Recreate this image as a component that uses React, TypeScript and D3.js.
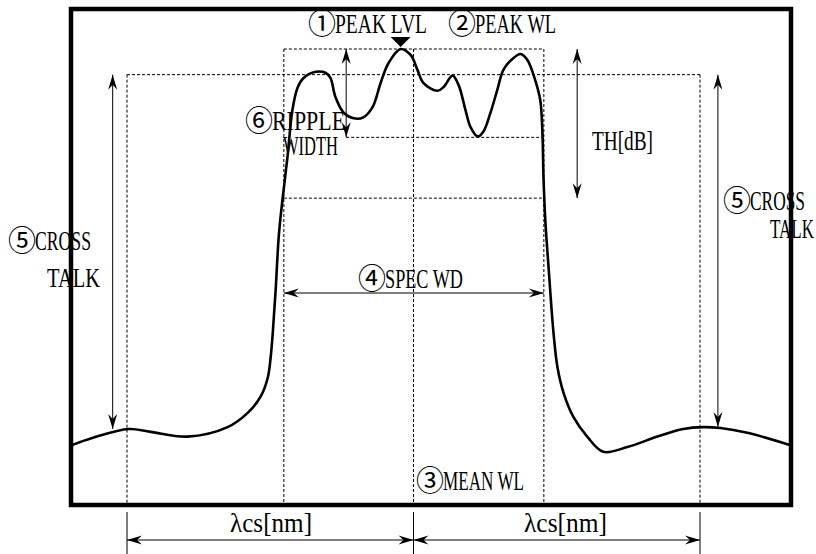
import React from "react";
import * as d3 from "d3";

// Spectrum trace: wavelength offset from mean WL [nm] and relative power [dB]
const wavelengthNm = [
  -0.954, -0.893, -0.795, -0.734, -0.631, -0.519, -0.463, -0.427, -0.407, -0.399,
  -0.393, -0.385, -0.376, -0.366, -0.352, -0.338, -0.324, -0.307, -0.273, -0.246,
  -0.232, -0.218, -0.195, -0.167, -0.14, -0.114, -0.092, -0.07, -0.036, -0.008,
  0.011, 0.028, 0.067, 0.084, 0.109, 0.126, 0.145, 0.159, 0.179, 0.195,
  0.215, 0.234, 0.251, 0.276, 0.299, 0.318, 0.34, 0.354, 0.36, 0.363,
  0.368, 0.377, 0.391, 0.402, 0.419, 0.446, 0.485, 0.53, 0.597, 0.681,
  0.753, 0.809, 0.857, 0.932, 1.052,
];
const powerDb = [
  -41.7, -40.9, -40.0, -40.3, -40.8, -39.8, -38.3, -36.6, -34.6, -32.5,
  -29.9, -25.4, -19.6, -15.9, -11.4, -6.4, -4.1, -3.05, -2.4, -2.5,
  -3.05, -5.05, -6.7, -7.3, -7.2, -6.1, -3.6, -1.5, 0, -0.63,
  -2.2, -3.6, -4.4, -4.0, -2.8, -3.8, -6.4, -8.2, -9.2, -8.7,
  -6.7, -4.3, -2.2, -1.05, -0.53, -1.16, -3.3, -5.4, -8.8, -13.5,
  -18.0, -22.9, -29.9, -33.5, -36.2, -38.7, -40.8, -42.4, -41.9, -40.8,
  -40.0, -39.8, -39.9, -40.4, -41.7,
];

// Reference markers
const MEAN_WL = 0;
const LAMBDA_CS = 0.8;
const SPEC_EDGES = [-0.362, 0.364];
const LEVEL_PEAK = 0;
const LEVEL_XT_REF = -2.7;
const LEVEL_RIPPLE = -9.3;
const LEVEL_TH = -15.7;
const RIPPLE_ARROW_WL = -0.188;
const TH_ARROW_WL = 0.457;
const XT_ARROW_WL = [-0.84, 0.85];
const XT_FLOOR_DB = [-40.0, -39.8];

const W = 816;
const H = 554;
const FRAME = { left: 71, top: 9, right: 791, bottom: 505 };

const LETTER_FONT = "'Liberation Serif', 'DejaVu Serif', serif";
const DIGIT_FONT = "'Noto Sans CJK JP', 'DejaVu Sans', sans-serif";
const DASH = "3,2";

function Label({ x, y, digit, text, width, size = 28 }: any) {
  return (
    <text x={x} y={y} fontSize={size} fontFamily={LETTER_FONT} fill="#000">
      {digit ? (
        <tspan fontFamily={DIGIT_FONT} fontSize={28} dy={1}>
          {digit}
        </tspan>
      ) : null}
      <tspan
        textLength={width}
        lengthAdjust="spacingAndGlyphs"
        dx={digit ? -1 : 0}
        dy={digit ? -1 : 0}
      >
        {text}
      </tspan>
    </text>
  );
}

export default function App() {
  const x = d3.scaleLinear().domain([-LAMBDA_CS, LAMBDA_CS]).range([127, 700]);
  const y = d3.scaleLinear().domain([0, -40]).range([49, 429]);

  const pts = wavelengthNm.map((w, i) => [w, powerDb[i]] as [number, number]);
  const line = d3
    .line<[number, number]>()
    .x((d) => x(d[0]))
    .y((d) => y(d[1]))
    .curve(d3.curveCatmullRom.alpha(0.5));

  const peakIdx = d3.maxIndex(powerDb);
  const px = x(wavelengthNm[peakIdx]);
  const py = y(powerDb[peakIdx]);

  const xl = x(MEAN_WL - LAMBDA_CS);
  const xm = x(MEAN_WL);
  const xr = x(MEAN_WL + LAMBDA_CS);
  const sL = x(SPEC_EDGES[0]);
  const sR = x(SPEC_EDGES[1]);
  const yPeak = y(LEVEL_PEAK);
  const yXt = y(LEVEL_XT_REF);
  const yRip = y(LEVEL_RIPPLE);
  const yTh = y(LEVEL_TH);
  const xRip = x(RIPPLE_ARROW_WL);
  const xTh = x(TH_ARROW_WL);

  const thin = { stroke: "#000", strokeWidth: 1, fill: "none" };
  const dotted = { stroke: "#000", strokeWidth: 1, strokeDasharray: DASH, fill: "none" };
  const arrow = { ...thin, markerStart: "url(#ah)", markerEnd: "url(#ah)" };

  return (
    <svg
      width={W}
      height={H}
      style={{ position: "absolute", left: 0, top: 0, background: "#fff" }}
    >
      <defs>
        <marker
          id="ah"
          viewBox="-16 -6 17 12"
          refX={0}
          refY={0}
          markerWidth={17}
          markerHeight={12}
          markerUnits="userSpaceOnUse"
          orient="auto-start-reverse"
        >
          <path d="M0,0 L-15,-4.5 L-10,0 L-15,4.5 Z" fill="#000" />
        </marker>
      </defs>
      <rect x={0} y={0} width={W} height={H} fill="#fff" />

      {/* dotted reference grid */}
      <line x1={sL} x2={sR} y1={yPeak} y2={yPeak} {...dotted} />
      <line x1={xl} x2={xr} y1={yXt} y2={yXt} {...dotted} />
      <line x1={xRip} x2={sR} y1={yRip} y2={yRip} {...dotted} />
      <line x1={sL} x2={sR} y1={yTh} y2={yTh} {...dotted} />
      <line x1={sL} x2={sL} y1={yPeak} y2={FRAME.bottom} {...dotted} />
      <line x1={sR} x2={sR} y1={yPeak} y2={FRAME.bottom} {...dotted} />
      <line x1={xm} x2={xm} y1={yPeak} y2={FRAME.bottom} {...dotted} />
      <line x1={xl} x2={xl} y1={yXt} y2={FRAME.bottom} {...dotted} />
      <line x1={xr} x2={xr} y1={yXt} y2={FRAME.bottom} {...dotted} />

      {/* spectrum */}
      <path d={line(pts) || ""} fill="none" stroke="#000" strokeWidth={2.6} strokeLinejoin="round" />

      {/* peak marker */}
      <path d={`M${px},${py - 2} L${px - 10},${py - 12} L${px + 10},${py - 12} Z`} fill="#000" />

      {/* measurement arrows */}
      <line x1={xRip} x2={xRip} y1={yPeak} y2={yRip} {...arrow} />
      <line x1={xTh} x2={xTh} y1={yPeak} y2={yTh} {...arrow} />
      <line x1={sL} x2={sR} y1={293} y2={293} {...arrow} />
      <line
        x1={x(XT_ARROW_WL[0])}
        x2={x(XT_ARROW_WL[0])}
        y1={yXt}
        y2={y(XT_FLOOR_DB[0])}
        {...arrow}
      />
      <line
        x1={x(XT_ARROW_WL[1])}
        x2={x(XT_ARROW_WL[1])}
        y1={yXt}
        y2={y(XT_FLOOR_DB[1])}
        {...arrow}
      />

      {/* frame */}
      <rect
        x={FRAME.left}
        y={FRAME.top}
        width={FRAME.right - FRAME.left}
        height={FRAME.bottom - FRAME.top}
        fill="none"
        stroke="#000"
        strokeWidth={4.5}
      />

      {/* lambda cs dimension lines below frame */}
      {[xl, xm, xr].map((v, i) => (
        <line key={i} x1={v} x2={v} y1={512} y2={H} {...thin} />
      ))}
      <line x1={xl} x2={xm} y1={540} y2={540} {...arrow} />
      <line x1={xm} x2={xr} y1={540} y2={540} {...arrow} />

      {/* labels */}
      <Label x={308} y={33} digit="①" text="PEAK LVL" width={92} />
      <Label x={448} y={33} digit="②" text="PEAK WL" width={81} />
      <Label x={245} y={130} digit="⑥" text="RIPPLE" width={73} />
      <Label x={283} y={155} text="WIDTH" width={55} />
      <Label x={592} y={150} text="TH[dB]" width={61} />
      <Label x={358} y={288} digit="④" text="SPEC WD" width={78} />
      <Label x={416} y={490} digit="③" text="MEAN WL" width={81} />
      <Label x={8} y={250} digit="⑤" text="CROSS" width={56} />
      <Label x={47} y={287} text="TALK" width={53} />
      <Label x={723} y={210} digit="⑤" text="CROSS" width={55} />
      <Label x={770} y={238} text="TALK" width={44} />
      <Label x={230} y={532} text="λcs[nm]" width={82} />
      <Label x={524} y={532} text="λcs[nm]" width={83} />
    </svg>
  );
}
